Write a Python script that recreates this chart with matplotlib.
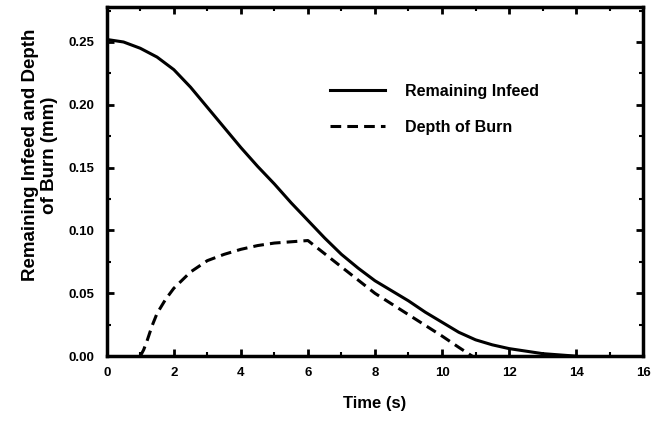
import matplotlib
matplotlib.use("Agg")
import matplotlib.pyplot as plt
from matplotlib.ticker import MultipleLocator, FormatStrFormatter

plt.rcParams['font.family'] = ['Liberation Sans', 'DejaVu Sans']
plt.rcParams['font.weight'] = 'bold'

# Remaining infeed (mm) vs time (s)
t_infeed = [0, 0.5, 1, 1.5, 2, 2.5, 3, 3.5, 4, 4.5, 5, 5.5, 6, 6.5, 7, 7.5, 8,
            8.5, 9, 9.5, 10, 10.5, 11, 11.5, 12, 12.5, 13, 13.5, 14]
infeed = [0.252, 0.250, 0.245, 0.238, 0.228, 0.214, 0.198, 0.182, 0.166, 0.151,
          0.137, 0.122, 0.108, 0.094, 0.081, 0.070, 0.060, 0.052, 0.044, 0.035,
          0.027, 0.019, 0.013, 0.009, 0.006, 0.004, 0.002, 0.001, 0.0]

# Depth of burn (mm) vs time (s)
t_burn = [1.0, 1.1, 1.2, 1.35, 1.5, 1.75, 2, 2.5, 3, 3.5, 4, 4.5, 5, 5.5, 6,
          7, 8, 9, 10, 10.5, 10.9]
burn = [0.0, 0.005, 0.012, 0.024, 0.034, 0.045, 0.054, 0.067, 0.076, 0.081, 0.085,
        0.088, 0.090, 0.091, 0.092, 0.071, 0.050, 0.033, 0.016, 0.007, 0.0]

fig = plt.figure(figsize=(6.59, 4.25), dpi=100)
ax = fig.add_axes([0.162, 0.162, 0.814, 0.822])

ax.plot(t_infeed, infeed, color='black', lw=2.2, label='Remaining Infeed')
ax.plot(t_burn, burn, color='black', lw=2.2, ls=(0, (3.5, 2)), label='Depth of Burn')

ax.set_xlim(0, 16)
ax.set_ylim(0, 0.278)
ax.xaxis.set_major_locator(MultipleLocator(2))
ax.xaxis.set_minor_locator(MultipleLocator(1))
ax.yaxis.set_major_locator(MultipleLocator(0.05))
ax.yaxis.set_minor_locator(MultipleLocator(0.025))
ax.yaxis.set_major_formatter(FormatStrFormatter('%.2f'))

for s in ax.spines.values():
    s.set_linewidth(2.5)
ax.tick_params(which='major', direction='in', length=5, width=2, labelsize=9.5,
               top=True, right=True)
ax.tick_params(axis='y', which='major', pad=9)
ax.tick_params(axis='x', which='major', pad=8)
ax.tick_params(which='minor', direction='in', length=3, width=1.5,
               top=True, right=True)
for lbl in ax.get_xticklabels() + ax.get_yticklabels():
    lbl.set_fontweight('bold')

ax.set_xlabel('Time (s)', fontsize=12, fontweight='bold', labelpad=12)
ax.set_ylabel('Remaining Infeed and Depth\nof Burn (mm)', fontsize=13.5,
              fontweight='bold', linespacing=1.2)
ax.yaxis.set_label_coords(-0.09, 0.576)

leg = ax.legend(loc='upper left', bbox_to_anchor=(0.39, 0.82), frameon=False,
                fontsize=11.5, handlelength=3.4, labelspacing=1.3, handletextpad=1.3)
for txt in leg.get_texts():
    txt.set_fontweight('bold')

fig.savefig('out.png', dpi=100)
